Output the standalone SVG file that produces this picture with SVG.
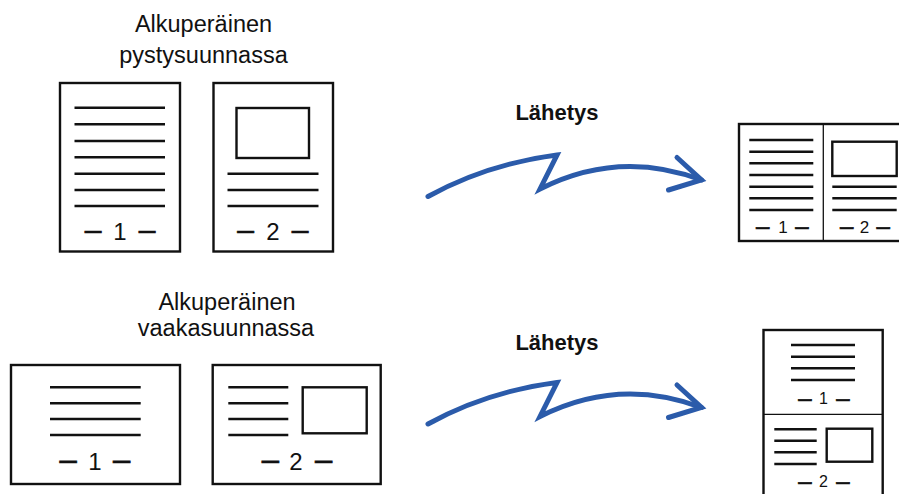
<svg xmlns="http://www.w3.org/2000/svg" width="899" height="494" viewBox="0 0 899 494">
<style>
.pg{fill:#fff;stroke:#111;stroke-width:2.4}
.ln{stroke:#111;stroke-width:2.4;fill:none}
.div{stroke:#111;stroke-width:1.3}
.t{font-family:"Liberation Sans",Arial,sans-serif;fill:#111}
.ttl{font-size:23.5px;text-anchor:middle}
.lbl{font-size:22px;font-weight:bold;text-anchor:middle}
.num{text-anchor:middle}
.d{stroke:#111;stroke-width:0.7}
.arr{fill:none;stroke:#2b5baa;stroke-width:5;stroke-linecap:round;stroke-linejoin:miter}
</style>
<rect width="899" height="494" fill="#fff"/>

<g id="title-portrait">
<text class="t ttl" x="203.5" y="31.5">Alkuperäinen</text>
<text class="t ttl" x="203.5" y="63">pystysuunnassa</text>
</g>

<g id="page-p1">
<rect class="pg" x="60" y="83" width="120" height="168.5"/>
<path class="ln" d="M74.5,107.7H165M74.5,124.3H165M74.5,141H165M74.5,157.3H165M74.5,173.7H165M74.5,190H165M74.5,206H165"/>
<text class="t num" y="240"><tspan class="d" x="93" font-size="30">–</tspan><tspan x="120" font-size="24">1</tspan><tspan class="d" x="147" font-size="30">–</tspan></text>
</g>

<g id="page-p2">
<rect class="pg" x="213.5" y="83" width="119.5" height="168.5"/>
<rect class="ln" x="236.5" y="108" width="72.5" height="50"/>
<path class="ln" d="M227.5,173.7H318.5M227.5,190H318.5M227.5,206H318.5"/>
<text class="t num" y="240"><tspan class="d" x="245.5" font-size="30">–</tspan><tspan x="273" font-size="24">2</tspan><tspan class="d" x="300" font-size="30">–</tspan></text>
</g>

<g id="label-top">
<text class="t lbl" x="557" y="120">Lähetys</text>
</g>

<g id="result-portrait">
<rect class="pg" x="739" y="124" width="170" height="117"/>
<line class="div" x1="823.3" y1="124" x2="823.3" y2="241"/>
<path class="ln" d="M749.3,140H813.3M749.3,151.7H813.3M749.3,163.3H813.3M749.3,175H813.3M749.3,186.7H813.3M749.3,198.3H813.3M749.3,210H813.3"/>
<rect class="ln" x="832.3" y="141.7" width="64.4" height="34.3"/>
<path class="ln" d="M832.3,186.7H896.7M832.3,198.3H896.7M832.3,210H896.7"/>
<text class="t num" y="232.5"><tspan class="d" x="762.7" y="234" font-size="24">–</tspan><tspan x="783" y="232.5" font-size="17">1</tspan><tspan class="d" x="802" y="234" font-size="24">–</tspan></text>
<text class="t num" y="232.5"><tspan class="d" x="846.7" y="234" font-size="24">–</tspan><tspan x="864.5" y="232.5" font-size="17">2</tspan><tspan class="d" x="883.3" y="234" font-size="24">–</tspan></text>
</g>

<g id="title-landscape">
<text class="t ttl" x="227" y="310">Alkuperäinen</text>
<text class="t ttl" x="226" y="335.5">vaakasuunnassa</text>
</g>

<g id="page-l1">
<rect class="pg" x="11" y="365" width="169" height="119"/>
<path class="ln" d="M50,387.3H140.7M50,403.3H140.7M50,419H140.7M50,435H140.7"/>
<text class="t num" y="470"><tspan class="d" x="68" font-size="31">–</tspan><tspan x="95" font-size="24">1</tspan><tspan class="d" x="121.5" font-size="31">–</tspan></text>
</g>

<g id="page-l2">
<rect class="pg" x="212.7" y="365" width="168" height="119"/>
<path class="ln" d="M228.3,387.3H288.3M228.3,403.3H288.3M228.3,419H288.3M228.3,435H288.3"/>
<rect class="ln" x="302.7" y="387.3" width="64" height="46"/>
<text class="t num" y="470"><tspan class="d" x="270.3" font-size="31">–</tspan><tspan x="296" font-size="24">2</tspan><tspan class="d" x="323.7" font-size="31">–</tspan></text>
</g>

<g id="label-bottom">
<text class="t lbl" x="557" y="350">Lähetys</text>
</g>

<g id="result-landscape">
<rect class="pg" x="763.5" y="330" width="119.2" height="200"/>
<line class="div" x1="763.5" y1="414.3" x2="882.7" y2="414.3"/>
<path class="ln" d="M791,345H855M791,356.7H855M791,368.3H855M791,380H855"/>
<text class="t num" y="403.5"><tspan class="d" x="805" y="405.5" font-size="24">–</tspan><tspan x="823.5" y="403.5" font-size="16">1</tspan><tspan class="d" x="843" y="405.5" font-size="24">–</tspan></text>
<path class="ln" d="M774.3,429.3H816.7M774.3,440.7H816.7M774.3,452.3H816.7M774.3,464H816.7"/>
<rect class="ln" x="826.7" y="428.7" width="45.6" height="33"/>
<text class="t num" y="487"><tspan class="d" x="805" y="489" font-size="24">–</tspan><tspan x="823.5" y="487" font-size="16">2</tspan><tspan class="d" x="843" y="489" font-size="24">–</tspan></text>
</g>

<g id="connectors">
<path class="arr" d="M428,196.5Q487,164 557,155L540,189Q619,149 701.5,180"/>
<path class="arr" d="M677,157.5L701.5,180L668.5,190"/>
<g transform="translate(0,227.5)">
<path class="arr" d="M428,196.5Q487,164 557,155L540,189Q619,149 701.5,180"/>
<path class="arr" d="M677,157.5L701.5,180L668.5,190"/>
</g>
</g>
</svg>
